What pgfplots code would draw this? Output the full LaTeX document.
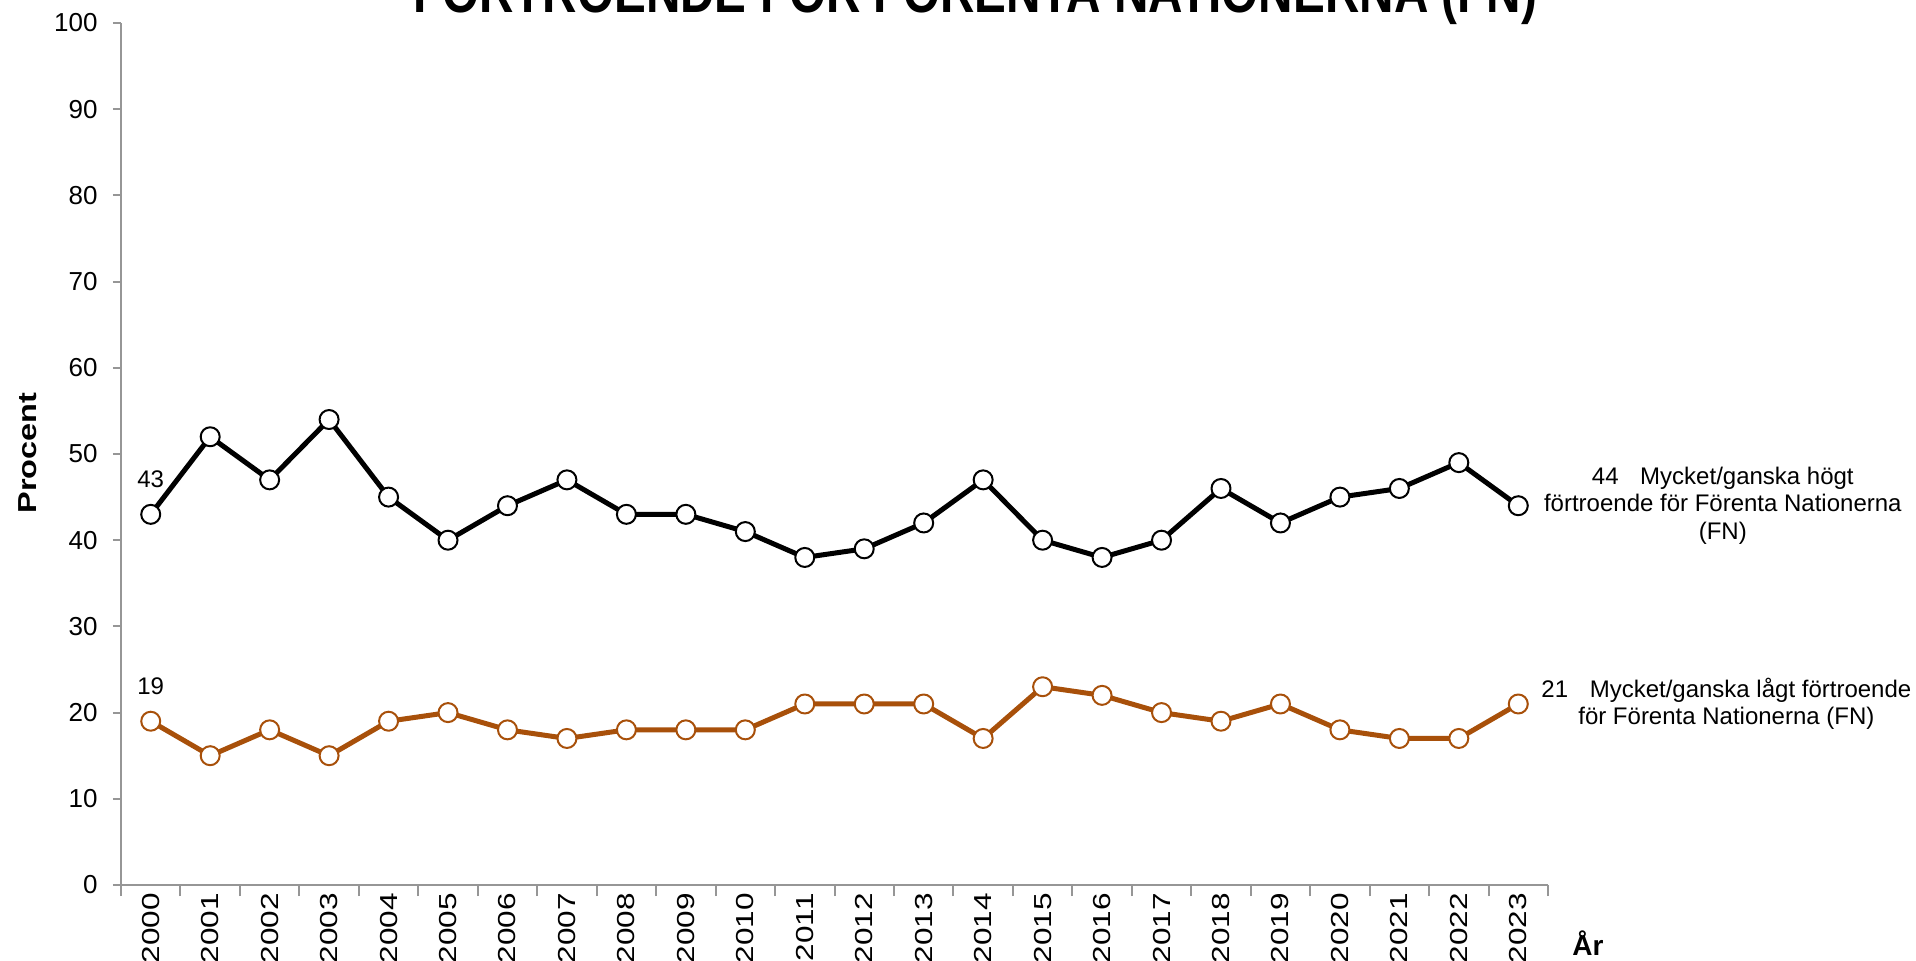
\documentclass[border=0pt]{standalone}
\usepackage{pgfplots}
\pgfplotsset{compat=1.18}
\usepackage{fontspec}
\setmainfont{Liberation Sans}
\definecolor{fnorange}{RGB}{168,80,10}
\definecolor{axgray}{RGB}{150,150,150}
% year labels are drawn stretched along their reading direction
\newcommand{\yr}[1]{\scalebox{1.28}[1]{#1}}

\begin{document}
\begin{tikzpicture}[x=1pt,y=1pt]
\useasboundingbox (0,0) rectangle (958,480);
\clip (0,0) rectangle (958,480);
\begin{pgfinterruptboundingbox}
\begin{axis}[
  at={(60.5pt,37.5pt)}, anchor=south west,
  width=713.5pt, height=431pt, scale only axis,
  xmin=-0.5, xmax=23.5, ymin=0, ymax=100,
  axis x line*=bottom, axis y line*=left,
  axis line style={axgray, line width=1pt},
  xtick={0,...,23},
  xticklabels={\yr{2000},\yr{2001},\yr{2002},\yr{2003},\yr{2004},\yr{2005},\yr{2006},\yr{2007},\yr{2008},\yr{2009},\yr{2010},\yr{2011},\yr{2012},\yr{2013},\yr{2014},\yr{2015},\yr{2016},\yr{2017},\yr{2018},\yr{2019},\yr{2020},\yr{2021},\yr{2022},\yr{2023}},
  minor xtick={-0.5,0.5,...,23.5},
  major x tick style={draw=none},
  minor x tick style={axgray, line width=1pt},
  ytick={0,10,...,100},
  y tick style={axgray, line width=1pt},
  tick align=outside,
  major tick length=4pt, minor tick length=5.5pt,
  xticklabel style={rotate=90, anchor=east, inner sep=0pt, font=\fontsize{12.3pt}{14pt}\selectfont},
  yticklabel style={anchor=east, inner sep=0pt, xshift=-7.5pt, font=\fontsize{13pt}{15pt}\selectfont},
  /pgf/number format/assume math mode=true,
  clip=false,
]
\addplot[black, line width=2.5pt, line join=round, mark=*, mark size=4.75pt,
  mark options={fill=white, draw=black, line width=1pt}] coordinates {
  (0,43) (1,52) (2,47) (3,54) (4,45) (5,40) (6,44) (7,47) (8,43) (9,43) (10,41) (11,38)
  (12,39) (13,42) (14,47) (15,40) (16,38) (17,40) (18,46) (19,42) (20,45) (21,46) (22,49) (23,44)};
\addplot[fnorange, line width=2.5pt, line join=round, mark=*, mark size=4.75pt,
  mark options={fill=white, draw=fnorange, line width=1pt}] coordinates {
  (0,19) (1,15) (2,18) (3,15) (4,19) (5,20) (6,18) (7,17) (8,18) (9,18) (10,18) (11,21)
  (12,21) (13,21) (14,17) (15,23) (16,22) (17,20) (18,19) (19,21) (20,18) (21,17) (22,17) (23,21)};
\node[font=\fontsize{12pt}{14pt}\selectfont, yshift=17.5pt] at (axis cs:0,43) {43};
\node[font=\fontsize{12pt}{14pt}\selectfont, yshift=17.5pt] at (axis cs:0,19) {19};
\node[align=center, inner sep=0pt, font=\fontsize{12pt}{13.75pt}\selectfont] at (axis cs:26.44,44)
  {44\hspace{0.9em}Mycket/ganska högt\\förtroende för Förenta Nationerna\\(FN)};
\node[align=center, inner sep=0pt, font=\fontsize{12pt}{13.75pt}\selectfont] at (axis cs:26.5,21)
  {21\hspace{0.9em}Mycket/ganska lågt förtroende\\för Förenta Nationerna (FN)};
\end{axis}
\node[anchor=base, inner sep=0pt] at (487.5,473.5)
  {\resizebox{562pt}{1.3\height}{\fontsize{22.5pt}{26pt}\selectfont\bfseries FÖRTROENDE FÖR FÖRENTA NATIONERNA (FN)}};
\node[rotate=90, inner sep=0pt] at (14,253.5)
  {\scalebox{1.25}[1]{\fontsize{13pt}{15pt}\selectfont\bfseries Procent}};
\node[anchor=base, inner sep=0pt] at (794,2.5) {\fontsize{14pt}{16pt}\selectfont\bfseries År};
\end{pgfinterruptboundingbox}
\end{tikzpicture}
\end{document}
